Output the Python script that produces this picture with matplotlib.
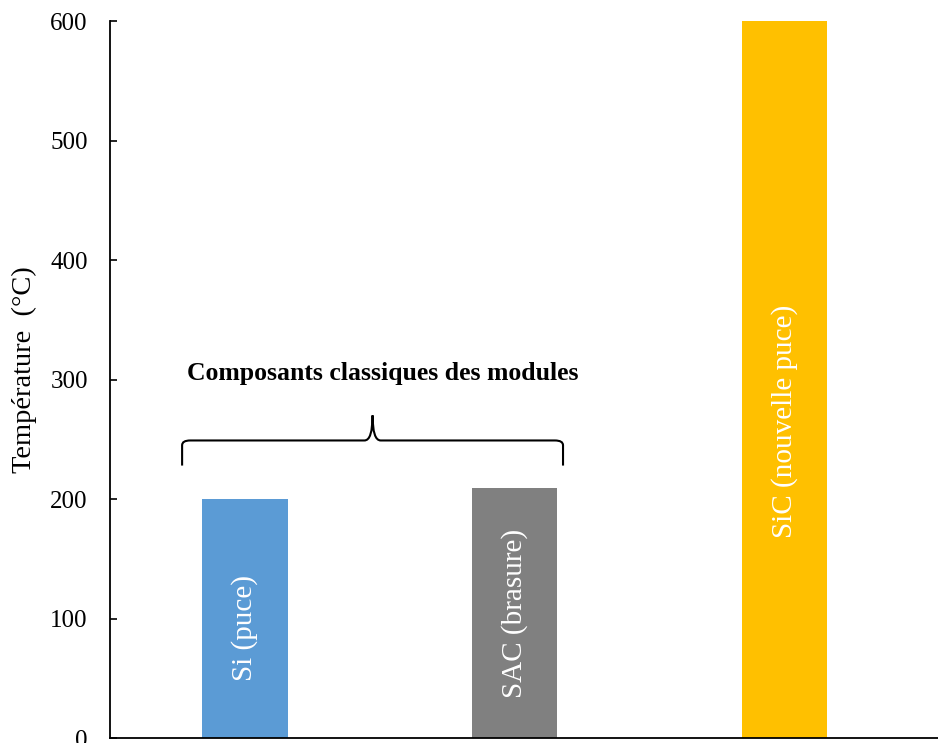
import matplotlib.pyplot as plt
from matplotlib.path import Path
import matplotlib.patches as mpatches

plt.rcParams['font.family'] = ['Liberation Serif', 'DejaVu Serif']

labels = ["Si (puce)", "SAC (brasure)", "SiC (nouvelle puce)"]
temps = [200, 209, 600]
colors = ["#5B9BD5", "#808080", "#FFC000"]
yticks = [0, 100, 200, 300, 400, 500, 600]
group_label = "Composants classiques des modules"

fig = plt.figure(figsize=(9.38, 7.43), dpi=100)
ax = fig.add_axes([0.1173, 0.0067, 0.8827, 0.965])

x = list(range(len(labels)))
width = 0.315
ax.bar(x, temps, width=width, color=colors, zorder=2)

# text inside bars
text_y = [92, 104, 265]
for xi, lab, ty in zip(x, labels, text_y):
    ax.text(xi, ty, lab, rotation=90, ha='center', va='center',
            color='white', fontsize=21)

ax.set_xlim(-0.5, 2.567)
ax.set_ylim(0, 600)
ax.set_yticks(yticks)
ax.set_xticks([])
ax.tick_params(axis='y', direction='in', length=5, width=1.2, labelsize=18, pad=16)
ax.spines['top'].set_visible(False)
ax.spines['right'].set_visible(False)
ax.spines['left'].set_linewidth(1.3)
ax.spines['bottom'].set_linewidth(1.3)
ax.set_ylabel("Température  (°C)", fontsize=20.5)
ax.yaxis.set_label_coords(-0.088, 0.514)

# curly brace over the first two bars
x0 = x[0] - 0.233
x1 = x[1] + 0.178
xm = (x0 + x1) / 2
yb, yh, yt = 228, 249, 270
c = 0.03
verts = [(x0, yb), (x0, yh - 4), (x0, yh), (x0 + c, yh),
         (xm - c, yh), (xm, yh), (xm, yt),
         (xm, yh), (xm + c, yh),
         (x1 - c, yh), (x1, yh), (x1, yh - 4), (x1, yb)]
codes = [Path.MOVETO, Path.LINETO, Path.CURVE3, Path.CURVE3,
         Path.LINETO, Path.CURVE3, Path.CURVE3,
         Path.CURVE3, Path.CURVE3,
         Path.LINETO, Path.CURVE3, Path.CURVE3, Path.LINETO]
brace = mpatches.PathPatch(Path(verts, codes), fill=False, lw=1.5, color='black')
ax.add_patch(brace)
ax.text(xm + 0.036, 305, group_label, ha='center', va='center',
        fontsize=18.5, fontweight='bold')

plt.savefig("out.png", dpi=100)
